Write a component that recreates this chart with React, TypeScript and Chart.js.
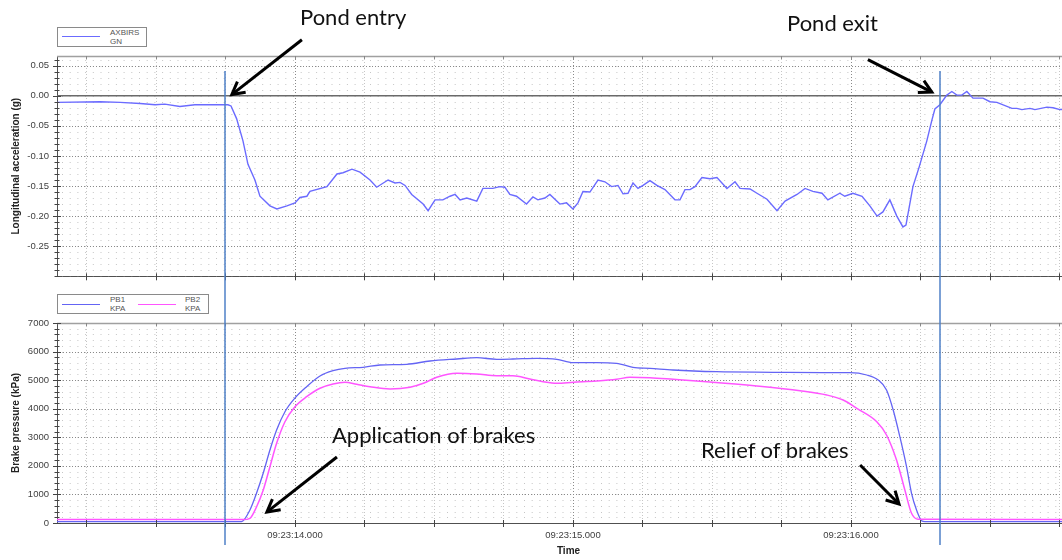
import React, { useEffect, useRef } from "react";
import { Chart, registerables } from "chart.js";

Chart.register(...registerables);

// ---------- data ----------
const accelTime = [
  13.144, 13.299, 13.371, 13.443, 13.497, 13.532, 13.586, 13.64, 13.694, 13.759,
  13.77, 13.79, 13.813, 13.831, 13.856, 13.874, 13.91, 13.935, 13.971, 14.0,
  14.018, 14.043, 14.054, 14.115, 14.151, 14.173, 14.205, 14.234, 14.27, 14.294,
  14.335, 14.36, 14.378, 14.396, 14.42, 14.461, 14.479, 14.504, 14.532, 14.558,
  14.576, 14.594, 14.618, 14.654, 14.676, 14.712, 14.737, 14.755, 14.773, 14.797,
  14.833, 14.856, 14.874, 14.899, 14.917, 14.953, 14.977, 15.0, 15.018, 15.036,
  15.061, 15.09, 15.115, 15.139, 15.162, 15.18, 15.198, 15.216, 15.234, 15.252,
  15.277, 15.302, 15.331, 15.367, 15.385, 15.403, 15.421, 15.439, 15.464, 15.493,
  15.518, 15.554, 15.583, 15.601, 15.637, 15.662, 15.698, 15.734, 15.763, 15.806,
  15.835, 15.863, 15.896, 15.917, 15.96, 15.978, 16.007, 16.04, 16.068, 16.094,
  16.115, 16.14, 16.165, 16.187, 16.198, 16.223, 16.245, 16.273, 16.291, 16.302,
  16.32, 16.345, 16.363, 16.381, 16.399, 16.417, 16.439, 16.475, 16.5, 16.525,
  16.579, 16.597, 16.615, 16.644, 16.662, 16.705, 16.727, 16.752, 16.806,
];
const accelValues = [
  -0.011, -0.01, -0.011, -0.013, -0.015, -0.014, -0.018, -0.015, -0.015, -0.015,
  -0.017, -0.038, -0.075, -0.114, -0.14, -0.167, -0.183, -0.188, -0.183, -0.178,
  -0.169, -0.167, -0.159, -0.151, -0.13, -0.128, -0.122, -0.127, -0.14, -0.152,
  -0.14, -0.145, -0.144, -0.149, -0.164, -0.18, -0.191, -0.173, -0.173, -0.167,
  -0.164, -0.173, -0.17, -0.175, -0.154, -0.154, -0.151, -0.152, -0.164, -0.167,
  -0.18, -0.168, -0.173, -0.17, -0.164, -0.18, -0.178, -0.188, -0.178, -0.159,
  -0.16, -0.14, -0.143, -0.151, -0.149, -0.163, -0.162, -0.145, -0.154, -0.149,
  -0.141, -0.149, -0.156, -0.173, -0.173, -0.156, -0.156, -0.151, -0.136, -0.138,
  -0.136, -0.154, -0.143, -0.154, -0.155, -0.162, -0.172, -0.191, -0.175, -0.164,
  -0.154, -0.159, -0.162, -0.173, -0.162, -0.167, -0.162, -0.167, -0.183, -0.2,
  -0.193, -0.173, -0.2, -0.218, -0.215, -0.151, -0.119, -0.075, -0.041, -0.022,
  -0.015, 0.001, 0.007, 0.001, 0.001, 0.007, -0.004, -0.004, -0.01, -0.011,
  -0.021, -0.021, -0.023, -0.021, -0.023, -0.019, -0.02, -0.023, -0.022,
];

const pb1Time = [
  13.144, 13.808, 13.838, 13.862, 13.886, 13.91, 13.934, 13.964, 14.0, 14.042,
  14.09, 14.137, 14.18, 14.245, 14.306, 14.402, 14.486, 14.582, 14.654, 14.726,
  14.784, 14.87, 14.942, 15.0, 15.085, 15.157, 15.216, 15.277, 15.36, 15.517,
  15.72, 15.899, 15.996, 16.057, 16.098, 16.128, 16.152, 16.176, 16.2, 16.218,
  16.236, 16.254, 16.266, 16.824,
];
const pb1Values = [
  50, 50, 455, 1050, 1750, 2555, 3255, 3895, 4375, 4770,
  5145, 5330, 5415, 5450, 5530, 5555, 5670, 5740, 5785, 5730,
  5740, 5765, 5730, 5610, 5610, 5590, 5450, 5415, 5355, 5295,
  5275, 5260, 5260, 5180, 5005, 4655, 3955, 3020, 1970, 1040,
  455, 80, 50, 50,
];

const pb2Time = [
  13.144, 13.814, 13.838, 13.862, 13.886, 13.91, 13.934, 13.964, 14.0, 14.042,
  14.09, 14.137, 14.18, 14.222, 14.27, 14.342, 14.414, 14.462, 14.51, 14.582,
  14.654, 14.726, 14.784, 14.845, 14.893, 14.942, 15.001, 15.085, 15.157, 15.205,
  15.277, 15.361, 15.481, 15.661, 15.817, 15.913, 15.972, 16.021, 16.093, 16.128,
  16.164, 16.194, 16.218, 16.242, 16.824,
];
const pb2Values = [
  120, 120, 165, 570, 1155, 1970, 2790, 3545, 4070, 4420,
  4715, 4865, 4925, 4855, 4770, 4690, 4750, 4890, 5100, 5240,
  5215, 5155, 5155, 5040, 4945, 4890, 4925, 4970, 5030, 5100,
  5085, 5030, 4945, 4795, 4630, 4480, 4305, 4015, 3545, 3080,
  2205, 1155, 340, 130, 120,
];

const timeTickValues = [
  13.25, 13.5, 13.75, 14.0, 14.25, 14.5, 14.75, 15.0, 15.25, 15.5, 15.75, 16.0,
  16.25, 16.5, 16.75,
];
const timeLabelValues = [14, 15, 16];
const timeLabelTexts = ["09:23:14.000", "09:23:15.000", "09:23:16.000"];
const accelTickValues = [-0.25, -0.2, -0.15, -0.1, -0.05, 0, 0.05];
const pressureTickValues = [0, 1000, 2000, 3000, 4000, 5000, 6000, 7000];
const eventTimes = [13.75, 16.32];

const timeMin = 13.144;
const timeMax = 16.824;
const accelMin = -0.3;
const accelMax = 0.066;
const pressureMin = 0;
const pressureMax = 7000;

// annotation arrows, in data units [time, value]
const pondArrows = [
  { from: [14.025, 0.093], to: [13.773, 0.002] },
  { from: [16.061, 0.06], to: [16.291, 0.006] },
];
const brakeArrows = [
  { from: [14.151, 2310], to: [13.899, 385] },
  { from: [16.033, 2030], to: [16.173, 665] },
];

// ---------- styling ----------
const FONT = "'Liberation Sans', Arial, Helvetica, sans-serif";
const ACCEL_COLOR = "#6b6bff";
const PB1_COLOR = "#6464f4";
const PB2_COLOR = "#ff55ff";
const EVENT_COLOR = "#4f81c7";

function drawArrow(ctx: CanvasRenderingContext2D, x1: number, y1: number, x2: number, y2: number) {
  const ang = Math.atan2(y2 - y1, x2 - x1);
  const head = 14;
  const spread = 0.5;
  ctx.save();
  ctx.strokeStyle = "#000";
  ctx.lineWidth = 3;
  ctx.lineCap = "butt";
  ctx.lineJoin = "miter";
  ctx.setLineDash([]);
  ctx.beginPath();
  ctx.moveTo(x1, y1);
  ctx.lineTo(x2 - Math.cos(ang) * 1.5, y2 - Math.sin(ang) * 1.5);
  ctx.stroke();
  ctx.beginPath();
  ctx.moveTo(x2 - Math.cos(ang - spread) * head, y2 - Math.sin(ang - spread) * head);
  ctx.lineTo(x2, y2);
  ctx.lineTo(x2 - Math.cos(ang + spread) * head, y2 - Math.sin(ang + spread) * head);
  ctx.stroke();
  ctx.restore();
}

type ScopeCfg = {
  minorStep: number;
  majorValues: number[];
  zeroLine: boolean;
  arrows: { from: number[]; to: number[] }[];
  eventTop: (chart: any) => number;
  eventBottom: (chart: any) => number;
};

function makeScopePlugin(cfg: ScopeCfg) {
  return {
    id: "scopeDecor",
    beforeDatasetsDraw(chart: any) {
      const { ctx, chartArea: a } = chart;
      const x = chart.scales.x;
      const y = chart.scales.y;
      ctx.save();
      ctx.beginPath();
      ctx.rect(a.left, a.top, a.right - a.left, a.bottom - a.top);
      ctx.clip();
      ctx.lineWidth = 1;
      // minor dotted lattice
      ctx.strokeStyle = "#c6c6c6";
      ctx.setLineDash([1, 6.7]);
      const i0 = Math.ceil(y.min / cfg.minorStep - 1e-6);
      const i1 = Math.floor(y.max / cfg.minorStep + 1e-6);
      for (let i = i0; i <= i1; i++) {
        const py = Math.round(y.getPixelForValue(i * cfg.minorStep)) + 0.5;
        ctx.beginPath();
        ctx.moveTo(a.left + 5, py);
        ctx.lineTo(a.right, py);
        ctx.stroke();
      }
      ctx.setLineDash([1, 2]);
      for (const t of timeTickValues) {
        if (Math.abs(t - Math.round(t)) < 1e-6) continue;
        const px = Math.round(x.getPixelForValue(t)) + 0.5;
        ctx.beginPath();
        ctx.moveTo(px, a.top);
        ctx.lineTo(px, a.bottom);
        ctx.stroke();
      }
      // major dotted grid
      ctx.strokeStyle = "#8a8a8a";
      ctx.setLineDash([1, 2]);
      for (const v of cfg.majorValues) {
        if (v <= y.min + 1e-9 || v >= y.max - 1e-9) continue;
        if (cfg.zeroLine && v === 0) continue;
        const py = Math.round(y.getPixelForValue(v)) + 0.5;
        ctx.beginPath();
        ctx.moveTo(a.left, py);
        ctx.lineTo(a.right, py);
        ctx.stroke();
      }
      for (const t of timeLabelValues) {
        const px = Math.round(x.getPixelForValue(t)) + 0.5;
        ctx.beginPath();
        ctx.moveTo(px, a.top);
        ctx.lineTo(px, a.bottom);
        ctx.stroke();
      }
      if (cfg.zeroLine) {
        ctx.setLineDash([]);
        ctx.strokeStyle = "#6a6a6a";
        ctx.lineWidth = 1.5;
        const py = y.getPixelForValue(0);
        ctx.beginPath();
        ctx.moveTo(a.left, py);
        ctx.lineTo(a.right, py);
        ctx.stroke();
      }
      ctx.restore();
    },
    afterDraw(chart: any) {
      const { ctx, chartArea: a } = chart;
      const x = chart.scales.x;
      const y = chart.scales.y;
      ctx.save();
      ctx.setLineDash([]);
      // top frame line
      ctx.strokeStyle = "#a0a0a0";
      ctx.lineWidth = 1.5;
      ctx.beginPath();
      ctx.moveTo(a.left, a.top + 0.5);
      ctx.lineTo(a.right, a.top + 0.5);
      ctx.stroke();
      // y ticks
      ctx.strokeStyle = "#444";
      ctx.lineWidth = 1;
      const i0 = Math.ceil(y.min / cfg.minorStep - 1e-6);
      const i1 = Math.floor(y.max / cfg.minorStep + 1e-6);
      for (let i = i0; i <= i1; i++) {
        const v = i * cfg.minorStep;
        const isMajor = cfg.majorValues.some((m) => Math.abs(m - v) < cfg.minorStep / 10);
        const py = Math.round(y.getPixelForValue(v)) + 0.5;
        const len = isMajor ? 4 : 2.5;
        ctx.beginPath();
        ctx.moveTo(a.left - len, py);
        ctx.lineTo(a.left + len, py);
        ctx.stroke();
      }
      // x ticks
      for (const t of timeTickValues) {
        const px = Math.round(x.getPixelForValue(t)) + 0.5;
        ctx.strokeStyle = "#444";
        ctx.beginPath();
        ctx.moveTo(px, a.bottom - 3);
        ctx.lineTo(px, a.bottom + 4);
        ctx.stroke();
        ctx.strokeStyle = "#888";
        ctx.beginPath();
        ctx.moveTo(px, a.top);
        ctx.lineTo(px, a.top + 3);
        ctx.stroke();
      }
      // event markers
      ctx.strokeStyle = EVENT_COLOR;
      ctx.lineWidth = 1.5;
      for (const t of eventTimes) {
        const px = Math.round(x.getPixelForValue(t));
        ctx.beginPath();
        ctx.moveTo(px, cfg.eventTop(chart));
        ctx.lineTo(px, cfg.eventBottom(chart));
        ctx.stroke();
      }
      ctx.restore();
      for (const ar of cfg.arrows) {
        drawArrow(
          ctx,
          x.getPixelForValue(ar.from[0]),
          y.getPixelForValue(ar.from[1]),
          x.getPixelForValue(ar.to[0]),
          y.getPixelForValue(ar.to[1])
        );
      }
    },
  };
}

const pairs = (xs: number[], ys: number[]) =>
  xs.slice(0, Math.min(xs.length, ys.length)).map((t, i) => ({ x: t, y: ys[i] }));

function timeAxis(showLabels: boolean, height: number) {
  return {
    type: "linear",
    min: timeMin,
    max: timeMax,
    bounds: "data",
    afterBuildTicks: (axis: any) => {
      axis.ticks = timeTickValues.map((value) => ({ value }));
    },
    afterFit: (axis: any) => {
      axis.height = height;
    },
    grid: { display: false, drawTicks: false },
    border: { display: true, color: "#505050", width: 1 },
    ticks: {
      display: showLabels,
      autoSkip: false,
      maxRotation: 0,
      minRotation: 0,
      padding: 7,
      color: "#404040",
      font: { family: FONT, size: 9.5 },
      callback: (v: any) => {
        const idx = timeLabelValues.findIndex((t) => Math.abs(t - Number(v)) < 1e-6);
        return idx >= 0 ? timeLabelTexts[idx] : "";
      },
    },
    title: {
      display: showLabels,
      text: "Time",
      color: "#222",
      font: { family: FONT, size: 10, weight: "bold" },
      padding: { top: 0, bottom: 3 },
    },
  };
}

function valueAxis(min: number, max: number, ticks: number[], title: string, fmt: (v: number) => string) {
  return {
    type: "linear",
    min,
    max,
    bounds: "data",
    afterBuildTicks: (axis: any) => {
      axis.ticks = ticks.map((value) => ({ value }));
    },
    afterFit: (axis: any) => {
      axis.width = 57;
    },
    grid: { display: false, drawTicks: false },
    border: { display: true, color: "#505050", width: 1 },
    ticks: {
      padding: 8,
      color: "#404040",
      font: { family: FONT, size: 9.5 },
      callback: (v: any) => fmt(Number(v)),
    },
    title: {
      display: true,
      text: title,
      color: "#222",
      font: { family: FONT, size: 10, weight: "bold" },
      padding: { top: 10, bottom: 0 },
    },
  };
}

export default function App() {
  const topRef = useRef<HTMLCanvasElement | null>(null);
  const botRef = useRef<HTMLCanvasElement | null>(null);

  useEffect(() => {
    if (!topRef.current || !botRef.current) return;
    const topChart = new Chart(topRef.current, {
      type: "line",
      data: {
        datasets: [
          {
            label: "AXBIRS GN",
            data: pairs(accelTime, accelValues),
            borderColor: ACCEL_COLOR,
            borderWidth: 1.4,
            pointRadius: 0,
            tension: 0,
          },
        ],
      },
      options: {
        responsive: false,
        animation: false,
        events: [],
        devicePixelRatio: 1,
        layout: { padding: { top: 56, right: 10, left: 0, bottom: 0 } },
        plugins: { legend: { display: false }, tooltip: { enabled: false } },
        scales: {
          x: timeAxis(false, 7),
          y: valueAxis(accelMin, accelMax, accelTickValues, "Longitudinal acceleration (g)", (v) => v.toFixed(2)),
        },
      } as any,
      plugins: [
        makeScopePlugin({
          minorStep: 0.01,
          majorValues: accelTickValues,
          zeroLine: true,
          arrows: pondArrows,
          eventTop: (c: any) => c.scales.y.getPixelForValue(0.041),
          eventBottom: (c: any) => c.height,
        }),
      ],
    });

    const botChart = new Chart(botRef.current, {
      type: "line",
      data: {
        datasets: [
          {
            label: "PB2 KPA",
            data: pairs(pb2Time, pb2Values),
            borderColor: PB2_COLOR,
            borderWidth: 1.5,
            pointRadius: 0,
            cubicInterpolationMode: "monotone",
          },
          {
            label: "PB1 KPA",
            data: pairs(pb1Time, pb1Values),
            borderColor: PB1_COLOR,
            borderWidth: 1.3,
            pointRadius: 0,
            cubicInterpolationMode: "monotone",
          },
        ],
      },
      options: {
        responsive: false,
        animation: false,
        events: [],
        devicePixelRatio: 1,
        layout: { padding: { top: 33, right: 10, left: 0, bottom: 0 } },
        plugins: { legend: { display: false }, tooltip: { enabled: false } },
        scales: {
          x: timeAxis(true, 37),
          y: valueAxis(pressureMin, pressureMax, pressureTickValues, "Brake pressure (kPa)", (v) => String(v)),
        },
      } as any,
      plugins: [
        makeScopePlugin({
          minorStep: 200,
          majorValues: pressureTickValues,
          zeroLine: false,
          arrows: brakeArrows,
          eventTop: () => 0,
          eventBottom: (c: any) => c.chartArea.bottom + 22,
        }),
      ],
    });

    return () => {
      topChart.destroy();
      botChart.destroy();
    };
  }, []);

  const legendText: React.CSSProperties = {
    position: "absolute",
    fontFamily: FONT,
    fontSize: 8,
    lineHeight: "9px",
    color: "#555",
    whiteSpace: "nowrap",
  };
  const note: React.CSSProperties = {
    position: "absolute",
    fontFamily: "Lato, 'Open Sans', sans-serif",
    fontSize: 22,
    lineHeight: "22px",
    color: "#111",
    whiteSpace: "nowrap",
  };

  return (
    <div
      style={{
        position: "fixed",
        left: 0,
        top: 0,
        width: 1062,
        height: 560,
        overflow: "hidden",
        background: "#fff",
      }}
    >
      <canvas ref={topRef} width={1090} height={290} style={{ position: "absolute", left: 0, top: 0, display: "block" }} />
      <canvas ref={botRef} width={1090} height={270} style={{ position: "absolute", left: 0, top: 290, display: "block" }} />

      {/* top legend */}
      <div style={{ position: "absolute", left: 57, top: 27, width: 88, height: 18, border: "1px solid #8a8a8a", background: "#fff" }}>
        <div style={{ position: "absolute", left: 4, top: 8, width: 38, height: 0, borderTop: `1.5px solid ${ACCEL_COLOR}` }} />
        <div style={{ ...legendText, left: 52, top: 0 }}>
          AXBIRS
          <br />
          GN
        </div>
      </div>

      {/* bottom legend */}
      <div style={{ position: "absolute", left: 57, top: 294, width: 150, height: 18, border: "1px solid #8a8a8a", background: "#fff" }}>
        <div style={{ position: "absolute", left: 4, top: 9, width: 38, height: 0, borderTop: `1.5px solid ${PB1_COLOR}` }} />
        <div style={{ ...legendText, left: 52, top: 0 }}>
          PB1
          <br />
          KPA
        </div>
        <div style={{ position: "absolute", left: 80, top: 9, width: 38, height: 0, borderTop: `1.5px solid ${PB2_COLOR}` }} />
        <div style={{ ...legendText, left: 127, top: 0 }}>
          PB2
          <br />
          KPA
        </div>
      </div>

      {/* annotations */}
      <div style={{ ...note, left: 300, top: 6 }}>Pond entry</div>
      <div style={{ ...note, left: 787, top: 12 }}>Pond exit</div>
      <div style={{ ...note, left: 332, top: 424 }}>Application of brakes</div>
      <div style={{ ...note, left: 701, top: 439 }}>Relief of brakes</div>
    </div>
  );
}
